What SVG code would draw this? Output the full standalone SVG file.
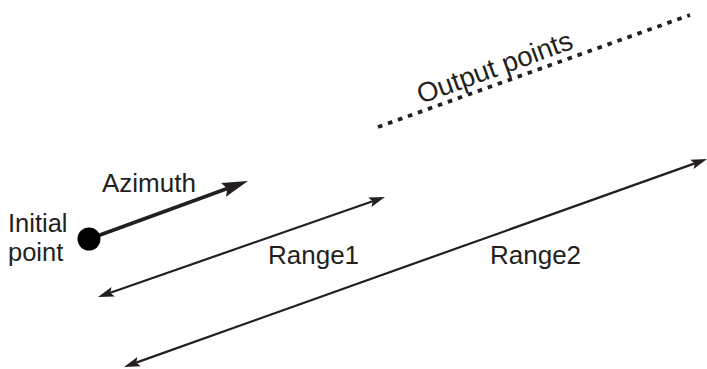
<svg xmlns="http://www.w3.org/2000/svg" width="707" height="369" viewBox="0 0 707 369">
<style>
text{font-family:"Liberation Sans",Arial,Helvetica,sans-serif;font-size:26px;fill:#231f20}
.ln{stroke:#231f20;fill:none}
.lbl2{font-size:25.5px}
</style>
<defs>
<marker id="azh" markerUnits="userSpaceOnUse" viewBox="0 -8 27 16" markerWidth="27" markerHeight="16" refX="4" refY="0" orient="auto">
<path d="M0,-7.2 L26,0 L0,7.2 L4,0 Z" fill="#231f20"/>
</marker>
<marker id="rh" markerUnits="userSpaceOnUse" viewBox="0 -6 17 12" markerWidth="17" markerHeight="12" refX="3" refY="0" orient="auto-start-reverse">
<path d="M0,-5 L16,0 L0,5 L3,0 Z" fill="#231f20"/>
</marker>
</defs>
<g id="connectors">
<line id="azimuth-arrow" class="ln" x1="89" y1="239" x2="227.3" y2="188.5" stroke-width="3.6" marker-end="url(#azh)"/>
<line id="range1-arrow" class="ln" x1="110.3" y1="292.7" x2="372.7" y2="201.3" stroke-width="2.2" marker-start="url(#rh)" marker-end="url(#rh)"/>
<line id="range2-arrow" class="ln" x1="136.2" y1="362.6" x2="694.8" y2="163.4" stroke-width="2.2" marker-start="url(#rh)" marker-end="url(#rh)"/>
<line id="output-points" class="ln" x1="378" y1="127" x2="690" y2="15" stroke-width="3.8" stroke-dasharray="4.6 6"/>
</g>
<g id="initial-point">
<circle cx="89" cy="239" r="11.5" fill="#000"/>
<text class="lbl2" x="8" y="231.5">Initial</text>
<text class="lbl2" x="8" y="260.5">point</text>
</g>
<g id="labels">
<text x="102" y="192">Azimuth</text>
<text x="268" y="264">Range1</text>
<text x="490" y="264">Range2</text>
<text x="421" y="104" transform="rotate(-20 421 104)" style="font-size:27.5px">Output points</text>
</g>
</svg>
